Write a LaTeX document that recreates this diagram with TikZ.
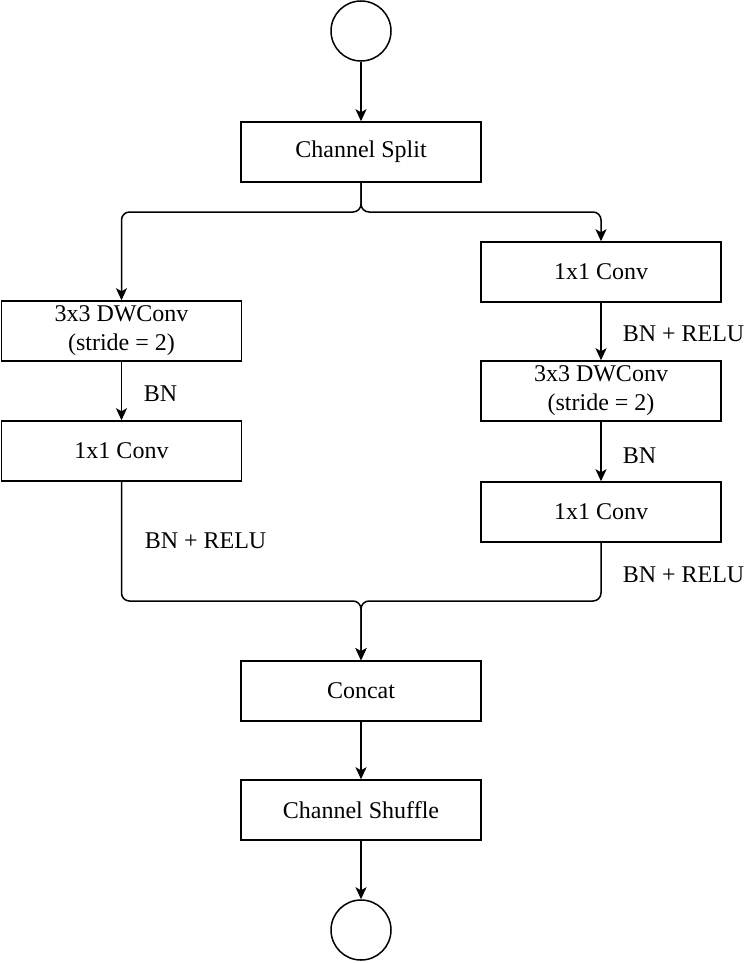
\documentclass[tikz,border=0pt]{standalone}
\usepackage{fontspec}
\setmainfont{Liberation Serif}
\usetikzlibrary{arrows.meta}

\begin{document}
\begin{tikzpicture}[x=0.5pt, y=-0.5pt, font=\fontsize{12}{14.5}\selectfont, line width=0.75pt,
  box/.style={draw, rectangle, minimum width=120pt, minimum height=30pt, align=center, inner sep=0pt},
  ring/.style={draw, circle, minimum size=30pt, inner sep=0pt},
  arr/.style={-{Stealth[length=6pt, width=5.5pt, inset=1.5pt]}, rounded corners=4pt},
  lbl/.style={anchor=west, inner sep=0pt}]
\useasboundingbox (0,0) rectangle (744,963);
% main column
\node[ring] (in) at (361,31) {};
\node[box] (split) at (361,152) {Channel Split};
\node[box] (concat) at (361,691) {Concat};
\node[box] (shuffle) at (361,810) {Channel Shuffle};
\node[ring] (out) at (361,930) {};
% left branch
\node[box] (ldw) at (121.5,331) {3x3 DWConv\\(stride = 2)};
\node[box] (lpw) at (121.5,451) {1x1 Conv};
% right branch
\node[box] (rpw1) at (601,272) {1x1 Conv};
\node[box] (rdw) at (601,391) {3x3 DWConv\\(stride = 2)};
\node[box] (rpw2) at (601,512) {1x1 Conv};
\coordinate (fork) at (361,212);
\coordinate (join) at (361,601);
% connectors
\draw[arr] (in) -- (split);
\draw[arr] (split.south) -- (fork) -| (ldw.north);
\draw[arr] (split.south) -- (fork) -| (rpw1.north);
\draw[arr] (ldw) -- (lpw);
\draw[arr] (rpw1) -- (rdw);
\draw[arr] (rdw) -- (rpw2);
\draw[arr] (lpw.south) |- (join) -- (concat.north);
\draw[arr] (rpw2.south) |- (join) -- (concat.north);
\draw[arr] (concat) -- (shuffle);
\draw[arr] (shuffle) -- (out);
% edge labels
\node[lbl] (bn1) at (143,394) {BN};
\node[lbl] (act1) at (144,541) {BN + RELU};
\node[lbl] (act2) at (622,334) {BN + RELU};
\node[lbl] (bn2) at (622,456) {BN};
\node[lbl] (act3) at (622,575) {BN + RELU};
\end{tikzpicture}
\end{document}
